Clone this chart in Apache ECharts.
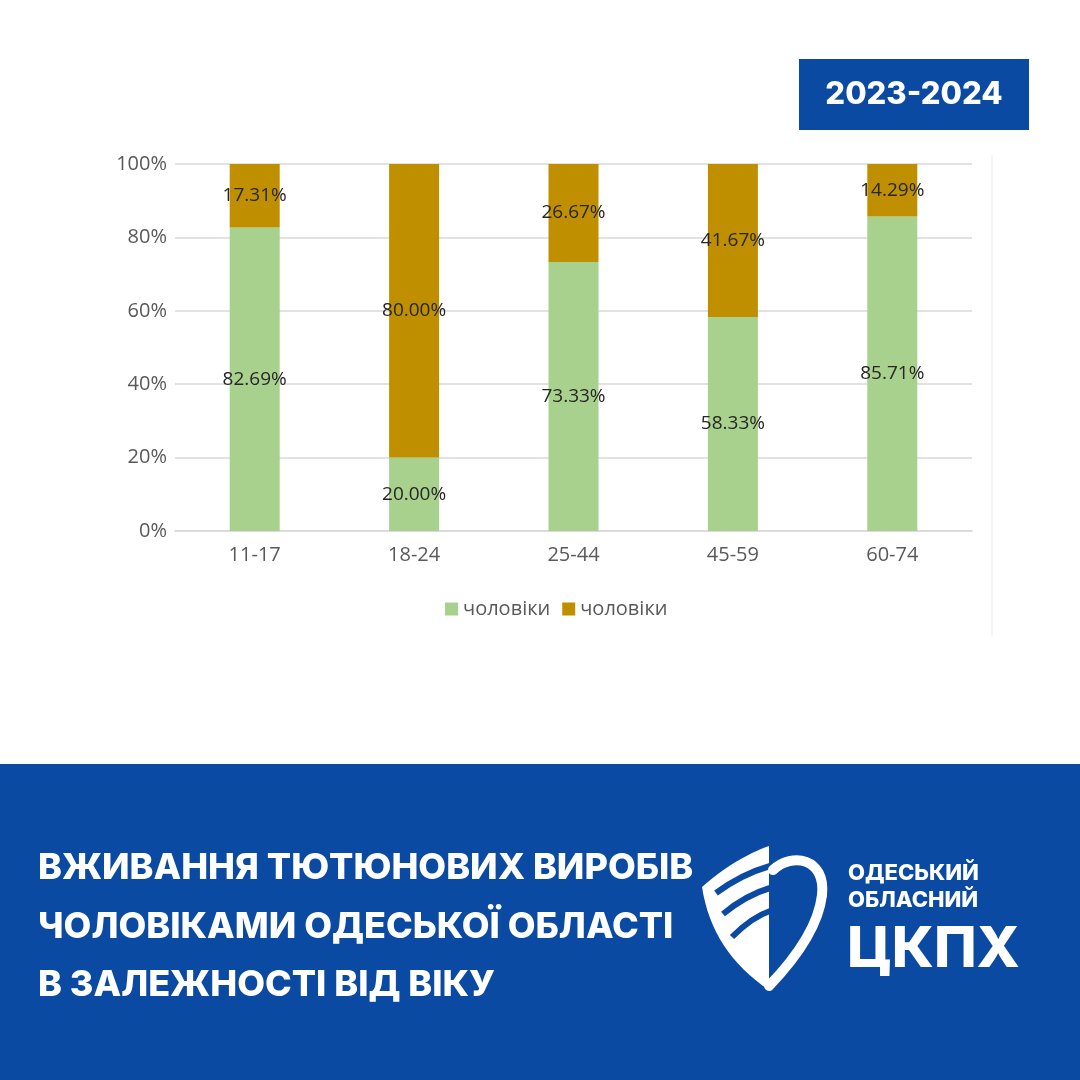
<!DOCTYPE html>
<html>
<head>
<meta charset="utf-8">
<script src="https://cdn.jsdelivr.net/npm/echarts@6/dist/echarts.min.js"></script>
<style>
  html, body { margin: 0; padding: 0; background: #fff; }
  #chart { width: 1080px; height: 1080px; }
</style>
</head>
<body>
<div id="chart"></div>
<script>
// вікові групи
const ageGroups = ['11-17', '18-24', '25-44', '45-59', '60-74'];
// частки, %
const greenValues = [82.69, 20.00, 73.33, 58.33, 85.71];
const orangeValues = [17.31, 80.00, 26.67, 41.67, 14.29];
const seriesNames = ['чоловіки', 'чоловіки'];
const titleLines = [
  'ВЖИВАННЯ ТЮТЮНОВИХ ВИРОБІВ',
  'ЧОЛОВІКАМИ ОДЕСЬКОЇ ОБЛАСТІ',
  'В ЗАЛЕЖНОСТІ ВІД ВІКУ'
];
const yearBadge = '2023-2024';

const BLUE = '#0A4AA3';
const labelFont = '"Open Sans", "Noto Sans", sans-serif';
const boldFont = 'Inter, "Noto Sans", sans-serif';

// точки квадратичної кривої для контуру щита
function quad(x0, y0, cx, cy, x1, y1, n) {
  let pts = [];
  for (let i = 0; i <= n; i++) {
    let t = i / n;
    pts.push([
      (1 - t) * (1 - t) * x0 + 2 * (1 - t) * t * cx + t * t * x1,
      (1 - t) * (1 - t) * y0 + 2 * (1 - t) * t * cy + t * t * y1
    ]);
  }
  return pts;
}
const shieldLeft = quad(769, 990, 712, 952, 702, 887, 16)
  .concat(quad(702, 887, 735, 858, 769, 846, 12));

let myChart = echarts.init(document.getElementById('chart'));

const pctLabel = {
  show: true,
  position: 'inside',
  color: '#262626',
  fontSize: 19,
  fontFamily: labelFont,
  formatter: p => p.value.toFixed(2) + '%'
};

const stripe = (x1, y1, cx, cy, x2, y2) => ({
  type: 'bezierCurve',
  shape: { x1: x1, y1: y1, cpx1: cx, cpy1: cy, x2: x2, y2: y2 },
  style: { stroke: BLUE, lineWidth: 6, fill: null }
});

myChart.setOption({
  backgroundColor: '#ffffff',
  animation: false,
  grid: { left: 175, right: 108, top: 164, bottom: 549 },
  legend: {
    top: 594,
    left: 440,
    itemWidth: 13,
    itemHeight: 13,
    itemGap: 12,
    icon: 'rect',
    textStyle: { color: '#595959', fontSize: 20, fontFamily: labelFont },
    data: [
      { name: 'g', itemStyle: { color: '#A9D18E' } },
      { name: 'o', itemStyle: { color: '#BF8F00' } }
    ],
    formatter: n => n === 'g' ? seriesNames[0] : seriesNames[1]
  },
  xAxis: {
    type: 'category',
    data: ageGroups,
    axisLine: { lineStyle: { color: '#D9D9D9', width: 1.5 } },
    axisTick: { show: false },
    axisLabel: { color: '#595959', fontSize: 20, fontFamily: labelFont, margin: 14 }
  },
  yAxis: {
    type: 'value',
    min: 0,
    max: 100,
    interval: 20,
    axisLine: { show: false },
    axisTick: { show: false },
    axisLabel: { color: '#595959', fontSize: 20, fontFamily: labelFont, margin: 8, formatter: '{value}%' },
    splitLine: { lineStyle: { color: '#D9D9D9', width: 1.5 } }
  },
  series: [
    {
      name: 'g',
      type: 'bar',
      stack: 'all',
      barWidth: 50,
      data: greenValues,
      itemStyle: { color: '#A9D18E' },
      label: pctLabel
    },
    {
      name: 'o',
      type: 'bar',
      stack: 'all',
      barWidth: 50,
      data: orangeValues,
      itemStyle: { color: '#BF8F00' },
      label: pctLabel
    }
  ],
  graphic: [
    // рамка області діаграми справа
    { type: 'line', shape: { x1: 992, y1: 155, x2: 992, y2: 636 }, style: { stroke: '#F0F0F0', lineWidth: 1.5 } },
    // бейдж з роками
    { type: 'rect', shape: { x: 799, y: 59, width: 230, height: 71 }, style: { fill: BLUE } },
    {
      type: 'text', x: 914, y: 95,
      style: { text: yearBadge, fill: '#fff', font: '800 31px ' + boldFont, align: 'center', verticalAlign: 'middle' }
    },
    // нижня синя плашка
    { type: 'rect', shape: { x: 0, y: 764, width: 1080, height: 316 }, style: { fill: BLUE } },
    {
      type: 'text', x: 38, y: 868,
      style: { text: titleLines[0], fill: '#fff', font: '800 36px ' + boldFont, verticalAlign: 'middle' }
    },
    {
      type: 'text', x: 38, y: 927,
      style: { text: titleLines[1], fill: '#fff', font: '800 36px ' + boldFont, verticalAlign: 'middle' }
    },
    {
      type: 'text', x: 38, y: 985,
      style: { text: titleLines[2], fill: '#fff', font: '800 36px ' + boldFont, verticalAlign: 'middle' }
    },
    // логотип: щит
    { type: 'polygon', shape: { points: shieldLeft }, style: { fill: '#fff' } },
    stripe(716, 893, 742, 874, 770, 866),
    stripe(723, 914, 746, 895, 770, 888),
    stripe(732, 937, 752, 917, 770, 911),
    {
      type: 'bezierCurve',
      shape: { x1: 773, y1: 870, cpx1: 792, cpy1: 852, cpx2: 826, cpy2: 858, x2: 822, y2: 895 },
      style: { stroke: '#fff', lineWidth: 10, fill: null, lineCap: 'round' }
    },
    {
      type: 'bezierCurve',
      shape: { x1: 822, y1: 895, cpx1: 818, cpy1: 930, cpx2: 792, cpy2: 962, x2: 769, y2: 986 },
      style: { stroke: '#fff', lineWidth: 10, fill: null, lineCap: 'round' }
    },
    {
      type: 'text', x: 848, y: 873,
      style: { text: 'ОДЕСЬКИЙ', fill: '#fff', font: '800 22px ' + boldFont, verticalAlign: 'middle' }
    },
    {
      type: 'text', x: 848, y: 900,
      style: { text: 'ОБЛАСНИЙ', fill: '#fff', font: '800 22px ' + boldFont, verticalAlign: 'middle' }
    },
    {
      type: 'text', x: 847, y: 950,
      style: { text: 'ЦКПХ', fill: '#fff', font: '800 57px ' + boldFont, verticalAlign: 'middle' }
    }
  ]
});
</script>
</body>
</html>
